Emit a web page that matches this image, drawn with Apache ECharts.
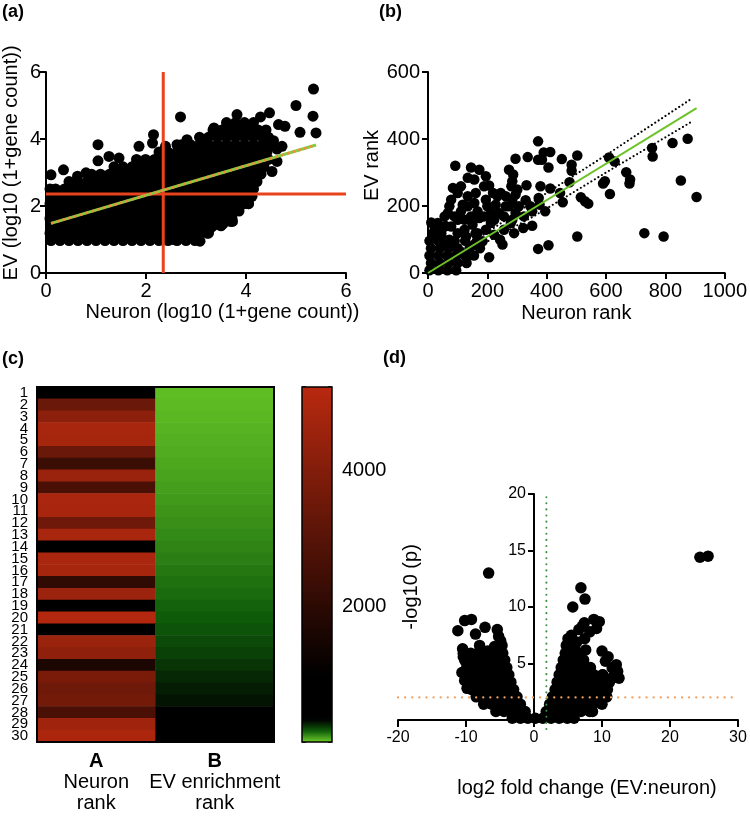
<!DOCTYPE html>
<html><head><meta charset="utf-8">
<script src="https://cdn.jsdelivr.net/npm/echarts@6.0.0/dist/echarts.min.js"></script>
<style>html,body{margin:0;padding:0;background:#fff}#c{width:750px;height:816px}</style>
</head><body><div id="c"></div>
<script>
// ---------- Panel (a): EV vs Neuron (log10(1+gene count)) ----------
const A_ROWS = [
 [0.97,[0.10,0.28,0.46,0.64,0.82,1.00,1.18,1.36,1.54,1.72,1.90,2.08,2.26,2.44,2.62,2.80,2.98]],
 [1.19,[0.08,0.19,0.37,0.55,0.73,0.91,1.09,1.27,1.45,1.63,1.81,1.99,2.17,2.35,2.53,2.71,2.89,3.07,3.25]],
 [1.41,[0.10,0.28,0.46,0.64,0.82,1.00,1.18,1.36,1.54,1.72,1.90,2.08,2.26,2.44,2.62,2.80,2.98,3.16,3.34,3.50]],
 [1.63,[0.08,0.19,0.37,0.55,0.73,0.91,1.09,1.27,1.45,1.63,1.81,1.99,2.17,2.35,2.53,2.71,2.89,3.07,3.25,3.43,3.61,3.72]],
 [1.85,[0.10,0.28,0.46,0.64,0.82,1.00,1.18,1.36,1.54,1.72,1.90,2.08,2.26,2.44,2.62,2.80,2.98,3.16,3.34,3.52,3.70,3.86]],
 [2.07,[0.08,0.19,0.37,0.55,0.73,0.91,1.09,1.27,1.45,1.63,1.81,1.99,2.17,2.35,2.53,2.71,2.89,3.07,3.25,3.43,3.61,3.79,3.97,4.05]],
 [2.29,[0.10,0.28,0.46,0.64,0.82,1.00,1.18,1.36,1.54,1.72,1.90,2.08,2.26,2.44,2.62,2.80,2.98,3.16,3.34,3.52,3.70,3.88,4.06,4.12]],
 [2.51,[0.08,0.19,0.37,0.55,0.73,0.91,1.09,1.27,1.45,1.63,1.81,1.99,2.17,2.35,2.53,2.71,2.89,3.07,3.25,3.43,3.61,3.79,3.97,4.15]],
 [2.73,[0.46,0.64,0.82,1.00,1.18,1.36,1.54,1.72,1.90,2.08,2.26,2.44,2.62,2.80,2.98,3.16,3.34,3.52,3.70,3.88,4.06,4.22]],
 [2.95,[0.91,1.09,1.27,1.45,1.63,1.81,1.99,2.17,2.35,2.53,2.71,2.89,3.07,3.25,3.43,3.61,3.79,3.97,4.15,4.30]],
 [3.17,[1.36,1.54,1.72,1.90,2.08,2.26,2.44,2.62,2.80,2.98,3.16,3.34,3.52,3.70,3.88,4.06,4.24,4.36]],
 [3.39,[1.81,1.99,2.17,2.35,2.53,2.71,2.89,3.07,3.25,3.43,3.61,3.79,3.97,4.15,4.33,4.45]],
 [3.61,[2.26,2.44,2.62,2.80,2.98,3.16,3.34,3.52,3.70,3.88,4.06,4.24,4.42]],
 [3.83,[2.71,2.89,3.07,3.25,3.43,3.61,3.79,3.97,4.15,4.33,4.50]],
 [4.05,[3.07,3.25,3.43,3.61,3.79,3.97,4.15,4.33,4.45]],
 [4.27,[3.34,3.52,3.70,3.88,4.06,4.24,4.40]],
 [4.49,[3.61,3.79,3.97,4.15]]
];
const A_OUTLIERS = [[0.10,2.93],[0.35,3.08],[0.63,2.89],[0.80,2.99],[1.04,3.83],[1.04,3.35],[1.26,3.48],[1.46,3.43],
 [1.86,3.78],[2.13,3.88],[2.15,4.13],[2.39,3.78],[2.62,3.83],[2.69,4.66],[2.82,3.98],[3.16,3.98],[3.36,4.33],[3.82,4.73],
 [4.29,4.66],[4.47,4.78],[4.65,4.43],[4.78,4.38],[4.72,3.78],[4.62,3.70],[4.62,3.33],[4.52,3.03],[4.24,3.58],[4.05,2.69],
 [4.15,2.69],[5.35,5.49],[5.00,5.00],[5.34,4.68],[5.08,4.20],[5.40,4.18],[4.05,2.07],[3.73,1.54],[3.54,1.47],[3.29,1.34],
 [3.22,1.19],[3.08,0.95],[2.56,1.00],[3.69,1.54],[4.55,3.95],[4.40,4.10]];
const A_THRESH_X = [[2.345,0],[2.345,6]];
const A_THRESH_Y = [[0,2.36],[6,2.36]];
const A_FIT = [[0.1,1.48],[5.4,3.82]];

// ---------- Panel (b): EV rank vs Neuron rank ----------
const B_POINTS = [
 [92,320],[145,315],[173,308],[134,284],[156,279],[195,289],[206,261],[189,259],[84,254],[100,239],[111,259],[161,239],
 [273,308],[287,294],[295,341],[336,346],[371,393],[371,338],[390,360],[412,361],[384,338],[406,315],[451,340],[503,351],
 [484,323],[484,305],[332,262],[379,259],[412,252],[477,271],[445,239],[454,211],[515,226],[529,214],[540,207],[596,274],
 [590,267],[613,236],[610,345],[629,333],[668,301],[681,279],[679,267],[755,373],[757,348],[824,388],[875,401],[852,276],
 [905,227],[729,119],[794,109],[503,109],[406,83],[371,72],[206,47],[351,141],[329,217],[351,184],[373,224],[395,184],
 [376,204],[301,249],[295,234],[281,259],[323,169],[321,134],[284,159],[256,169],[228,204],[234,229],[245,239],[262,229],
 [219,239],[200,199],[189,169],[212,179],[256,129],[243,99],[251,85],[223,114],[295,179],[262,199],[156,209],[134,199],
 [117,204],[72,199],[67,179],[11,151],[33,149],[56,139],[33,119],[78,139],[100,159],[123,159],[145,169],[173,164],
 [150,144],[123,129],[128,109],[167,119],[184,95],[156,85],[134,50],[111,60],[89,80],[100,119],[290,119],[279,149],
 [273,199],[212,149],[195,129],[284,274],[306,199],[345,199],[284,219],[239,179],[223,159],[195,219],[167,184],[134,229],
 [111,184],[89,169],[78,219],[56,169],[22,139],[45,99],[72,99],
 [5,8],[35,8],[65,8],[95,8],[10,30],[40,30],[70,30],[100,30],[130,30],[5,52],[35,52],[65,52],[95,52],[125,52],[155,52],
 [10,74],[40,74],[70,74],[100,74],[140,74],[175,74],[5,96],[35,96],[60,96],[90,96],[125,96],[165,96],[15,118],[45,118],
 [160,118],[30,140],[60,140]
];
const B_FIT = [[0,0],[905,492]];
const B_BAND_UPPER = [[0,10],[150,92],[356,214],[600,352],[891,522]];
const B_BAND_LOWER = [[0,-8],[150,70],[356,169],[600,300],[891,453]];

// ---------- Panel (c): heatmap ----------
const ROW_LABELS = ['1','2','3','4','5','6','7','8','9','10','11','12','13','14','15','16','17','18','19','20',
 '21','22','23','24','25','26','27','28','29','30'];
const COLUMN_KEYS = ['A','B'];
const COLUMN_NAMES = [['Neuron','rank'],['EV enrichment','rank']];
const NEURON_RANK = [800,3430,4210,4860,4790,3430,2320,4540,2690,4910,4860,3520,4860,900,4910,4790,2090,4580,700,5090,
 750,4540,4260,1630,3800,3520,3660,2690,4680,4950];
const EV_ENRICHMENT_RANK = [22,26,31,36,41,47,53,60,66,73,81,89,97,105,114,124,134,143,153,163,179,196,212,234,256,273,
 290,330,360,400];
const SCALE_MAX = 5230;
const SCALE_TICKS = [2000,4000];

// ---------- Panel (d): volcano ----------
const D_ROWS = [
 [0.15,[-3.2,-2.0,-0.9,0.2,1.3,2.5,3.7,4.9,5.9]],
 [0.75,[-5.6,-4.4,-3.2,-2.1,-1.3,1.8,3.0,4.3,5.6,6.9,8.2,8.6]],
 [1.40,[-7.4,-6.2,-5.0,-3.8,-2.7,-2.0,2.3,3.5,4.8,6.1,7.4,8.7,10.0]],
 [2.05,[-8.5,-7.3,-6.0,-4.8,-3.6,-2.5,2.7,3.8,5.1,6.4,7.7,9.0,10.3,10.7]],
 [2.70,[-9.2,-8.0,-6.8,-5.6,-4.3,-3.0,3.1,4.3,5.6,6.9,8.2,9.5,10.8]],
 [3.35,[-9.6,-8.4,-7.1,-5.9,-4.6,-3.4,3.4,4.6,5.9,7.2,8.5,9.8,11.1]],
 [4.00,[-9.8,-8.6,-7.4,-6.2,-5.0,-3.7,3.7,4.9,6.2,7.5,8.8,10.1]],
 [4.65,[-9.9,-8.7,-7.5,-6.3,-5.1,-4.0,4.0,5.2,6.5,7.8,8.3]],
 [5.30,[-10.2,-9.0,-7.6,-6.4,-5.3,-4.3,4.3,5.4,6.5,7.3]],
 [5.90,[-10.4,-8.3,-7.0,-5.6,-4.6,4.6,5.6,6.6]]
];
const D_OUTLIERS = [[-11.2,7.9],[-10.2,8.8],[-9.2,8.9],[-8.6,7.6],[-7.2,8.2],[-5.4,8.0],[-5.2,7.4],[-8.0,6.6],[-5.8,6.5],
 [-4.7,6.6],[-10.5,6.3],[-6.67,13.0],[-10.4,5.6],[-10.6,4.2],[-9.85,2.8],[-10.2,3.5],[-6.8,6.1],[-9.3,5.9],[-4.9,7.0],
 [6.9,11.7],[7.5,10.7],[5.7,10.0],[7.1,8.3],[6.6,8.0],[7.4,8.6],[8.8,8.9],[9.6,8.7],[9.2,8.1],[5.5,7.5],[4.75,6.6],
 [6.3,6.9],[7.45,7.2],[7.6,6.2],[10.0,6.1],[10.9,5.6],[12.1,4.9],[12.3,4.3],[12.5,3.7],[11.6,3.8],[10.1,4.0],[9.8,3.5],
 [8.2,7.8],[5.0,7.2],[6.0,6.6],[10.5,5.2],[11.5,4.6],[24.4,14.4],[25.6,14.5]];
const D_FC_CUT = [[1.82,-0.8],[1.82,19.8]];
const D_P_CUT = [[-20,2],[29.5,2]];

// ---------- helpers ----------
const FONT = 'Liberation Sans, Arial, Helvetica, sans-serif';
function rowsToPoints(rows){const out=[];rows.forEach(r=>r[1].forEach(x=>out.push([x,r[0]])));return out;}
const heatData = [];
ROW_LABELS.forEach((_,i)=>{heatData.push([0,i,NEURON_RANK[i]]);heatData.push([1,i,EV_ENRICHMENT_RANK[i]]);});
// colour scale: bright green -> dark green -> black (low values), black -> red (high values); 32 equal intervals
const colorStops = ['#6ccc28','#0e5c0a','#000000','#000000','#000000','#000000','#000000'];
for(let k=1;k<=26;k++){colorStops.push('rgb('+Math.round(184*k/26)+','+Math.round(41*k/26)+','+Math.round(15*k/26)+')');}

const axLine = {lineStyle:{color:'#000',width:2}};
const axTick = {length:6,lineStyle:{color:'#000',width:2}};
function valAxis(o){return Object.assign({type:'value',axisLine:{show:true,onZero:false,lineStyle:{color:'#000',width:2}},
  axisTick:axTick,splitLine:{show:false},
  axisLabel:{color:'#000',fontSize:20,fontFamily:FONT,formatter:v=>String(v)},
  nameLocation:'middle',nameTextStyle:{color:'#000',fontSize:20,fontFamily:FONT}},o);}
function lineSeries(xi,data,color,width,type,cap){return {type:'line',xAxisIndex:xi,yAxisIndex:xi,data:data,symbol:'none',
  silent:true,lineStyle:{color:color,width:width,type:type||'solid',cap:cap||'butt'},z:3};}
const dotStyle = {color:'#000',opacity:1,borderWidth:0};

const chart = echarts.init(document.getElementById('c'));
chart.setOption({
 animation:false,
 textStyle:{fontFamily:FONT},
 title:[
  {text:'(a)',left:2,top:3,padding:0,textStyle:{fontSize:18,fontWeight:'bold',color:'#000',fontFamily:FONT}},
  {text:'(b)',left:379,top:3,padding:0,textStyle:{fontSize:18,fontWeight:'bold',color:'#000',fontFamily:FONT}},
  {text:'(c)',left:2,top:350,padding:0,textStyle:{fontSize:18,fontWeight:'bold',color:'#000',fontFamily:FONT}},
  {text:'(d)',left:383,top:349,padding:0,textStyle:{fontSize:18,fontWeight:'bold',color:'#000',fontFamily:FONT}}
 ],
 grid:[
  {left:45,top:72,width:301,height:201},
  {left:428,top:72,width:300,height:201},
  {left:37,top:387,width:237,height:355,show:true,borderColor:'#000',borderWidth:2,backgroundColor:'transparent',z:10},
  {left:302,top:387,width:30,height:355,show:true,borderColor:'#000',borderWidth:1.5,backgroundColor:'transparent',z:10},
  {left:398,top:494,width:340,height:226}
 ],
 xAxis:[
  valAxis({gridIndex:0,min:0,max:6,interval:2,name:'Neuron (log10 (1+gene count))',nameGap:29,
    nameTextStyle:{color:'#000',fontSize:20,fontFamily:FONT,padding:[0,0,0,53]}}),
  valAxis({gridIndex:1,min:0,max:1000,interval:200,name:'Neuron rank',nameGap:30}),
  {type:'category',gridIndex:2,data:COLUMN_KEYS,axisLine:axLine,
   axisTick:{alignWithLabel:true,interval:0,length:6,lineStyle:{color:'#000',width:2}},
   axisLabel:{interval:0,margin:9,color:'#000',formatter:(v,i)=>'{k|'+v+'}\n{n|'+COLUMN_NAMES[i][0]+'}\n{n|'+COLUMN_NAMES[i][1]+'}',
     rich:{k:{fontSize:20,fontWeight:'bold',lineHeight:21,fontFamily:FONT,color:'#000'},
           n:{fontSize:20,lineHeight:21,fontFamily:FONT,color:'#000'}}}},
  {type:'value',gridIndex:3,min:0,max:1,show:false},
  valAxis({gridIndex:4,min:-20,max:30,interval:10,axisLabel:{color:'#000',fontSize:16,fontFamily:FONT,margin:10},
    axisTick:{length:7,lineStyle:{color:'#000',width:2}}})
 ],
 yAxis:[
  valAxis({gridIndex:0,min:0,max:6,interval:2,name:'EV (log10 (1+gene count))',nameGap:25,
    axisLabel:{color:'#000',fontSize:20,fontFamily:FONT,margin:5},
    nameTextStyle:{color:'#000',fontSize:20,fontFamily:FONT,padding:[0,0,0,19]}}),
  valAxis({gridIndex:1,min:0,max:600,interval:200,name:'EV rank',nameGap:38,
    nameTextStyle:{color:'#000',fontSize:20,fontFamily:FONT,padding:[0,0,0,14]}}),
  {type:'category',gridIndex:2,data:ROW_LABELS,inverse:true,axisLine:axLine,
   axisTick:{alignWithLabel:true,interval:0,length:7,lineStyle:{color:'#000',width:2}},
   axisLabel:{interval:0,margin:9,fontSize:15,color:'#000',fontFamily:FONT}},
  {type:'value',gridIndex:3,min:0,max:SCALE_MAX,interval:2000,position:'left',axisLine:{show:false},
   axisTick:{inside:true,length:4,lineStyle:{color:'#000',width:1.5}},axisLabel:{show:false},splitLine:{show:false}},
  {type:'value',gridIndex:3,min:0,max:SCALE_MAX,interval:2000,position:'right',axisLine:{show:false},
   axisTick:{inside:true,length:4,lineStyle:{color:'#000',width:1.5}},splitLine:{show:false},
   axisLabel:{margin:10,fontSize:20,color:'#000',fontFamily:FONT,formatter:v=>SCALE_TICKS.indexOf(v)>=0?String(v):''}},
  valAxis({gridIndex:4,min:0,max:20,interval:5,offset:-136,
    axisLabel:{color:'#000',fontSize:16,fontFamily:FONT,margin:8,formatter:v=>v===0?'':String(v)},
    axisTick:{length:6,lineStyle:{color:'#000',width:2}}})
 ],
 visualMap:[{type:'continuous',min:0,max:SCALE_MAX,seriesIndex:9,calculable:false,padding:0,
   left:302,top:387,itemWidth:30,itemHeight:355,inRange:{color:colorStops},hoverLink:false}],
 graphic:[
  {type:'text',x:411,y:587,rotation:Math.PI/2,silent:true,
   style:{text:'-log10 (p)',fontSize:20,fontFamily:FONT,fill:'#000',align:'center',verticalAlign:'middle'}},
  {type:'text',x:587,y:788,silent:true,
   style:{text:'log2 fold change (EV:neuron)',fontSize:20,fontFamily:FONT,fill:'#000',align:'center',verticalAlign:'middle'}}
 ],
 series:[
  {type:'scatter',xAxisIndex:0,yAxisIndex:0,data:rowsToPoints(A_ROWS).concat(A_OUTLIERS),symbolSize:11,
   itemStyle:dotStyle,silent:true},
  lineSeries(0,A_THRESH_X,'#e8431c',3),
  lineSeries(0,A_THRESH_Y,'#e8431c',3),
  lineSeries(0,A_FIT,'#86cc3c',3),
  lineSeries(0,A_FIT,'#f5894a',2.5,[2.5,3.5]),
  {type:'scatter',xAxisIndex:1,yAxisIndex:1,data:B_POINTS,symbolSize:10.5,itemStyle:dotStyle,silent:true},
  lineSeries(1,B_FIT,'#6cc228',2),
  lineSeries(1,B_BAND_UPPER,'#000',2,[0.1,4],'round'),
  lineSeries(1,B_BAND_LOWER,'#000',2,[0.1,4],'round'),
  {type:'heatmap',xAxisIndex:2,yAxisIndex:2,data:heatData,silent:true,emphasis:{disabled:true}},
  {type:'scatter',xAxisIndex:4,yAxisIndex:5,data:rowsToPoints(D_ROWS).concat(D_OUTLIERS),symbolSize:11.5,
   itemStyle:dotStyle,silent:true},
  Object.assign(lineSeries(4,D_FC_CUT,'#3d8f3d',2,[0.1,6],'round'),{yAxisIndex:5,clip:false}),
  Object.assign(lineSeries(4,D_P_CUT,'#f0a060',2.2,[0.1,7],'round'),{yAxisIndex:5})
 ]
});
</script></body></html>
